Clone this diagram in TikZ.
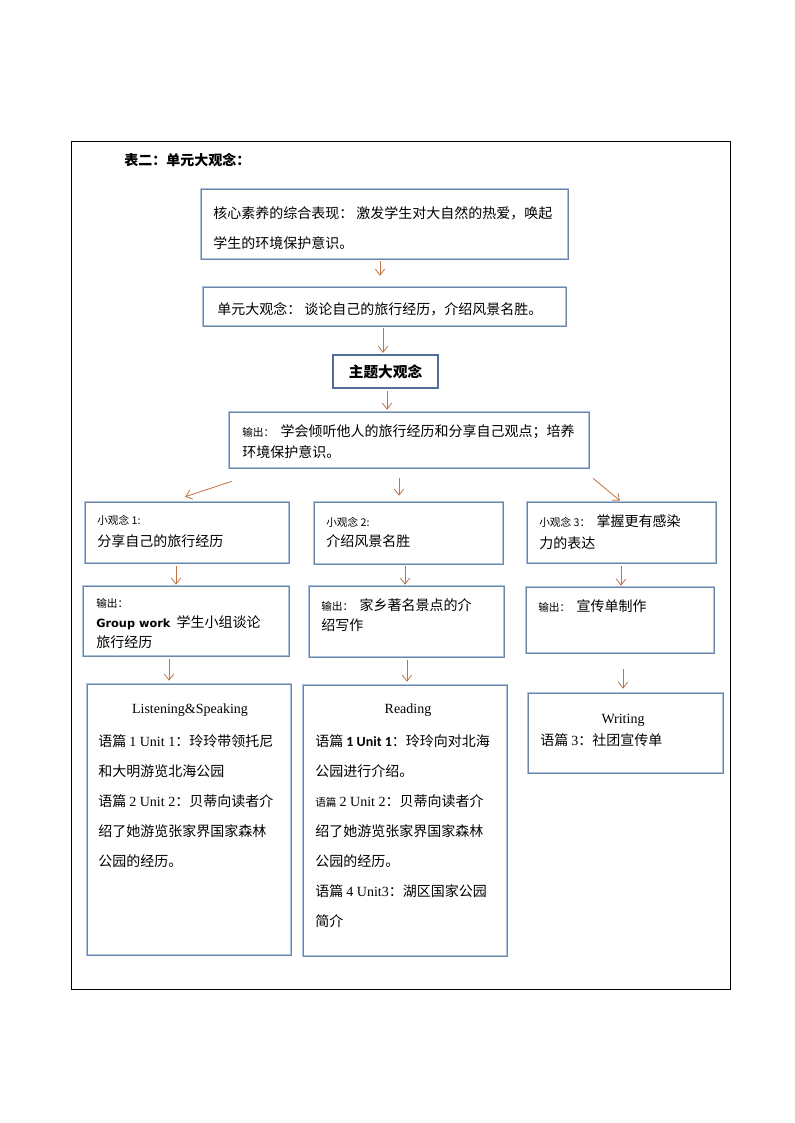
\documentclass[tikz,border=0pt]{standalone}
\usepackage{fontspec}
\setmainfont{Liberation Serif}
\newfontfamily\cjk{Noto Sans CJK SC}
\newfontfamily\verd{DejaVu Sans}
\newfontfamily\calfont{Carlito}
\usetikzlibrary{arrows.meta}

\definecolor{arrowc}{HTML}{C0733E}
\definecolor{boxlight}{HTML}{A9C2E0}
\definecolor{boxdark}{HTML}{6E86A3}
\definecolor{themeblue}{HTML}{4F6F9A}

\newcommand\sm[1]{{\fontsize{8}{9}\selectfont #1}}

\tikzset{
    size/.style 2 args={minimum width={#1*0.75pt}, minimum height={#2*0.75pt}},
    box/.style={draw=boxlight, line width=1.9pt, postaction={draw=boxdark, line width=0.45pt}, inner sep=0pt},
    themebox/.style={draw=themeblue, line width=1.7pt, inner sep=0pt, font=\cjk\bfseries\fontsize{11}{13}\selectfont},
    txt/.style={anchor=north west, align=left, inner sep=0pt},
    head/.style={anchor=base, inner sep=0pt, font=\rmfamily\fontsize{10.5}{12}\selectfont},
    arr/.style={draw=arrowc, line width=0.6pt, -{Straight Barb[length=4.5pt,width=7pt]}}
}

\begin{document}
\begin{tikzpicture}[x=0.75pt, y=-0.75pt]
\useasboundingbox (0,0) rectangle (794,1123);
\draw[line width=0.6pt] (71,141) rectangle (730,989);

% title
\node[anchor=base west, inner sep=0pt, font=\cjk\bfseries\fontsize{10.5}{12}\selectfont] (title) at (124,166) {表二：单元大观念：};

% top chain
\node[box, size={367}{70}] (core) at (384.5,224) {};
\node[txt, font=\cjk\fontsize{10.5}{22.5}\selectfont] (coretxt) at (213,206.5)
    {核心素养的综合表现： 激发学生对大自然的热爱，唤起\\学生的环境保护意识。};

\node[box, size={363}{39}] (unit) at (384.5,306.5) {};
\node[anchor=base west, inner sep=0pt, font=\cjk\fontsize{10.5}{12}\selectfont] (unittxt) at (217,314)
    {单元大观念： 谈论自己的旅行经历，介绍风景名胜。};

\node[themebox, size={105}{33}] (theme) at (385.5,371.5) {主题大观念};

\node[box, size={360}{56}] (output) at (409,440) {};
\node[txt, font=\cjk\fontsize{10.5}{15.75}\selectfont] (outputtxt) at (242,424.5)
    {\sm{输出：}\ \ 学会倾听他人的旅行经历和分享自己观点；培养\\环境保护意识。};

% small ideas
\node[box, size={204}{61}] (idea1) at (187,532.5) {};
\node[txt, font=\cjk\fontsize{10.5}{16.5}\selectfont] (idea1txt) at (97,515)
    {\sm{小观念 1:}\\分享自己的旅行经历};
\node[box, size={189}{62}] (idea2) at (408.5,533) {};
\node[txt, font=\cjk\fontsize{10.5}{15}\selectfont] (idea2txt) at (326,517)
    {\sm{小观念 2:}\\介绍风景名胜};
\node[box, size={189}{61}] (idea3) at (621.5,532.5) {};
\node[txt, font=\cjk\fontsize{10.5}{16.5}\selectfont] (idea3txt) at (539,514.5)
    {\sm{小观念 3：}\ \ 掌握更有感染\\力的表达};

% outputs
\node[box, size={206}{70}] (out1) at (186,621) {};
\node[txt, font=\cjk\fontsize{10.5}{15}\selectfont] (out1txt) at (96,598)
    {\sm{输出：}\\{\verd\bfseries\fontsize{8.5}{10}\selectfont Group work}\ \ 学生小组谈论\\旅行经历};
\node[box, size={195}{71}] (out2) at (406.5,621.5) {};
\node[txt, font=\cjk\fontsize{10.5}{15}\selectfont] (out2txt) at (321,598.5)
    {\sm{输出：}\ \ 家乡著名景点的介\\绍写作};
\node[box, size={188}{66}] (out3) at (620,620) {};
\node[txt, font=\cjk\fontsize{10.5}{15}\selectfont] (out3txt) at (538,599.5)
    {\sm{输出：}\ \ 宣传单制作};

% texts
\node[box, size={204}{271}] (listen) at (189,819.5) {};
\node[head] (listenhead) at (190,713) {Listening\&Speaking};
\node[txt, font=\cjk\fontsize{10.5}{22.5}\selectfont] (listentxt) at (98,734.5)
    {语篇 {\rmfamily 1 Unit 1}：玲玲带领托尼\\和大明游览北海公园\\语篇 {\rmfamily 2 Unit 2}：贝蒂向读者介\\绍了她游览张家界国家森林\\公园的经历。};

\node[box, size={204}{271}] (read) at (405,820.5) {};
\node[head] (readhead) at (408,713) {Reading};
\node[txt, font=\cjk\fontsize{10.5}{22.5}\selectfont] (readtxt) at (315,734.5)
    {语篇 {\calfont\bfseries 1 Unit 1}：玲玲向对北海\\公园进行介绍。\\\sm{语篇} {\rmfamily 2 Unit 2}：贝蒂向读者介\\绍了她游览张家界国家森林\\公园的经历。\\语篇 {\rmfamily 4 Unit3}：湖区国家公园\\简介};

\node[box, size={195}{80}] (write) at (625.5,733) {};
\node[head] (writehead) at (623,723) {Writing};
\node[anchor=base west, inner sep=0pt, font=\cjk\fontsize{10.5}{12}\selectfont] (writetxt) at (540,745)
    {语篇 {\rmfamily 3}：社团宣传单};

% arrows
\draw[arr] ([shift={(-4.5,1)}]core.south) -- ([shift={(-4.5,-10)}]unit.north);
\draw[arr] ([shift={(-1.5,1)}]unit.south) -- ([shift={(-2.5,-1)}]theme.north);
\draw[arr] ([shift={(1.5,2)}]theme.south) -- ([shift={(-22,-1)}]output.north);
\draw[arr] ([shift={(-177,12)}]output.south) -- ([shift={(-2,-4)}]idea1.north);
\draw[arr] ([shift={(-10,9)}]output.south) -- ([shift={(-9.5,-5)}]idea2.north);
\draw[arr] ([shift={(184,9)}]output.south) -- ([shift={(-1.5,0)}]idea3.north);
\draw[arr] ([shift={(-11,2)}]idea1.south) -- ([shift={(-10,0)}]out1.north);
\draw[arr] ([shift={(-3.5,1)}]idea2.south) -- ([shift={(-1.5,0)}]out2.north);
\draw[arr] ([shift={(-0.5,2)}]idea3.south) -- ([shift={(1,0)}]out3.north);
\draw[arr] ([shift={(-17,2)}]out1.south) -- ([shift={(-20,-2)}]listen.north);
\draw[arr] ([shift={(0.5,2)}]out2.south) -- ([shift={(2,-2)}]read.north);
\draw[arr] ([shift={(3,15)}]out3.south) -- ([shift={(-2.5,-3)}]write.north);

\end{tikzpicture}
\end{document}
